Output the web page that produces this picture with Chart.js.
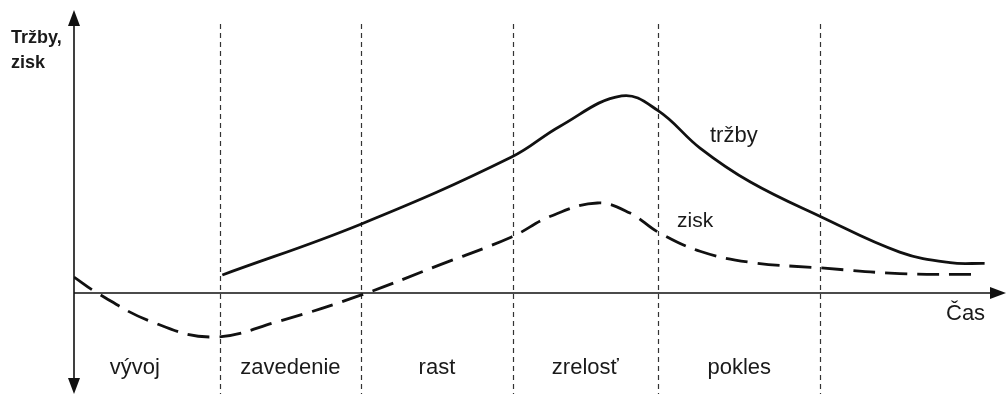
<!DOCTYPE html>
<html lang="sk">
<head>
<meta charset="UTF-8">
<title>Životný cyklus produktu</title>
<script src="https://cdn.jsdelivr.net/npm/chart.js"></script>
<style>
  body { margin: 0; background: #fff; font-family: 'Liberation Sans', Arial, sans-serif; }
  #wrap { width: 1007px; height: 394px; }
</style>
</head>
<body>
<div id="wrap"><canvas id="cycle" width="1007" height="394"></canvas></div>
<script>
  // phases of the product life cycle (time axis 0..100)
  const phaseNames = ['vývoj', 'zavedenie', 'rast', 'zrelosť', 'pokles'];
  const phaseBounds = [15.6, 30.8, 47, 62.6, 80];

  // tržby (sales)
  const salesTime  = [15.9, 30.8, 46.9, 52.1, 58.7, 62.6, 67.1, 72.5, 80.1, 88.5, 93.9, 97.6];
  const salesValue = [9.3, 35.6, 70.1, 86.0, 101.6, 94.0, 74.7, 57.2, 39.2, 21.1, 15.6, 15.3];

  // zisk (profit)
  const profitTime  = [0, 2.5, 8.1, 14.8, 22.0, 30.8, 39.2, 46.9, 51.0, 56.1, 59.6, 62.6, 67.1, 72.5, 80.1, 88.5, 96.6];
  const profitValue = [8.2, 0, -14.4, -22.7, -14.5, -1.0, 14.5, 28.9, 39.4, 46.4, 41.2, 31.4, 21.5, 15.8, 12.9, 10.0, 9.6];

  const toPoints = (xs, ys) => xs.map((x, i) => ({ x: x, y: ys[i] }));
  const ink = '#111';

  function arrow(ctx, x, y, dir) {
    // dir: 'up', 'down', 'right'
    ctx.beginPath();
    if (dir === 'up') { ctx.moveTo(x, y); ctx.lineTo(x - 6, y + 16); ctx.lineTo(x + 6, y + 16); }
    if (dir === 'down') { ctx.moveTo(x, y); ctx.lineTo(x - 6, y - 16); ctx.lineTo(x + 6, y - 16); }
    if (dir === 'right') { ctx.moveTo(x, y); ctx.lineTo(x - 16, y - 6); ctx.lineTo(x - 16, y + 6); }
    ctx.closePath();
    ctx.fill();
  }

  const decor = {
    id: 'decor',
    beforeDatasetsDraw(chart) {
      const { ctx, scales: { x, y } } = chart;
      const x0 = x.getPixelForValue(0);
      const y0 = y.getPixelForValue(0);
      ctx.save();
      ctx.strokeStyle = ink;
      ctx.fillStyle = ink;

      // phase separators
      ctx.lineWidth = 1.2;
      ctx.strokeStyle = '#333';
      ctx.setLineDash([5, 4]);
      phaseBounds.forEach(b => {
        const px = Math.round(x.getPixelForValue(b)) + 0.5;
        ctx.beginPath();
        ctx.moveTo(px, 24);
        ctx.lineTo(px, 394);
        ctx.stroke();
      });
      ctx.setLineDash([]);

      // axes
      ctx.strokeStyle = ink;
      ctx.lineWidth = 1.6;
      ctx.beginPath();
      ctx.moveTo(x0, 14);
      ctx.lineTo(x0, 388);
      ctx.moveTo(x0, y0);
      ctx.lineTo(1000, y0);
      ctx.stroke();
      arrow(ctx, x0, 10, 'up');
      arrow(ctx, x0, 394, 'down');
      arrow(ctx, 1006, y0, 'right');
      ctx.restore();
    },
    afterDraw(chart) {
      const { ctx, scales: { x } } = chart;
      ctx.save();
      ctx.fillStyle = '#1a1a1a';
      ctx.textBaseline = 'alphabetic';

      // axis titles
      ctx.font = 'bold 18px "Liberation Sans", Arial, sans-serif';
      ctx.textAlign = 'left';
      ctx.fillText('Tržby,', 11, 43);
      ctx.fillText('zisk', 11, 68);

      ctx.font = '22px "Liberation Sans", Arial, sans-serif';
      ctx.fillText('Čas', 946, 320);

      // series labels
      ctx.fillText('tržby', 710, 142);
      ctx.font = '21px "Liberation Sans", Arial, sans-serif';
      ctx.fillText('zisk', 677, 227);

      // phase names
      ctx.font = '22px "Liberation Sans", Arial, sans-serif';
      ctx.textAlign = 'center';
      const edges = [0].concat(phaseBounds);
      phaseNames.forEach((name, i) => {
        const mid = (x.getPixelForValue(edges[i]) + x.getPixelForValue(edges[i + 1])) / 2;
        ctx.fillText(name, i === 0 ? mid - 12 : mid, 374);
      });
      ctx.restore();
    }
  };

  new Chart(document.getElementById('cycle'), {
    type: 'line',
    data: {
      datasets: [
        {
          label: 'tržby',
          data: toPoints(salesTime, salesValue),
          borderColor: ink,
          borderWidth: 2.8,
          pointRadius: 0,
          tension: 0.4,
          fill: false
        },
        {
          label: 'zisk',
          data: toPoints(profitTime, profitValue),
          borderColor: ink,
          borderWidth: 2.8,
          borderDash: [22, 10],
          pointRadius: 0,
          tension: 0.4,
          fill: false
        }
      ]
    },
    options: {
      responsive: false,
      animation: false,
      layout: { padding: { left: 74, right: 0, top: 2, bottom: 4 } },
      scales: {
        x: { type: 'linear', min: 0, max: 100, display: false },
        y: { min: -50, max: 150, display: false }
      },
      plugins: { legend: { display: false }, tooltip: { enabled: false } }
    },
    plugins: [decor]
  });
</script>
</body>
</html>
